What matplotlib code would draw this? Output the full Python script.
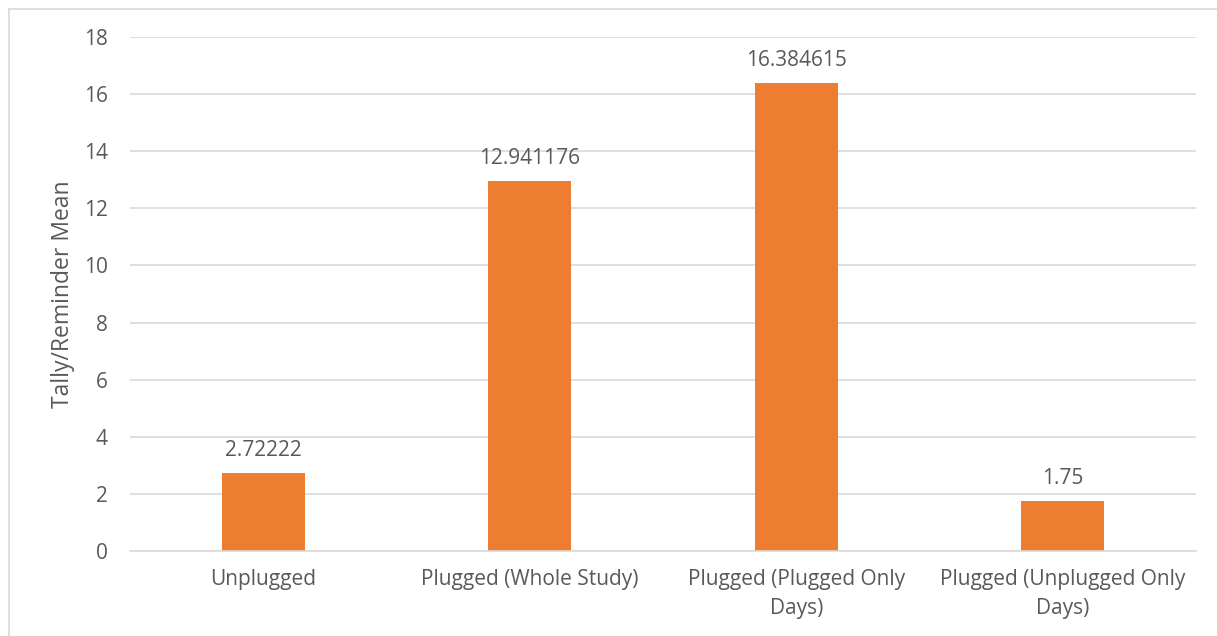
import matplotlib
matplotlib.use("Agg")
import matplotlib.pyplot as plt
from matplotlib.lines import Line2D

categories = ["Unplugged", "Plugged (Whole Study)", "Plugged (Plugged Only\nDays)",
              "Plugged (Unplugged Only\nDays)"]
values = [2.72222, 12.941176, 16.384615, 1.75]
value_labels = ["2.72222", "12.941176", "16.384615", "1.75"]
y_ticks = [0, 2, 4, 6, 8, 10, 12, 14, 16, 18]

plt.rcParams["font.family"] = ["Open Sans", "DejaVu Sans"]
text_color = "#595959"
grid_color = "#D9D9D9"
bar_color = "#ED7D31"

fig = plt.figure(figsize=(12.17, 6.36), dpi=100)
ax = fig.add_axes([130 / 1217, 1 - 551 / 636, (1196 - 130) / 1217, (551 - 37) / 636])

x = list(range(len(categories)))
bars = ax.bar(x, values, width=0.31, color=bar_color, zorder=3)

for xi, v, lab in zip(x, values, value_labels):
    ax.annotate(lab, (xi, v), xytext=(0, 9), textcoords="offset points",
                ha="center", va="bottom", fontsize=15, color=text_color)

ax.set_xlim(-0.5, len(categories) - 0.5)
ax.set_ylim(0, 18)
ax.set_yticks(y_ticks)
ax.set_xticks(x)
ax.set_xticklabels(categories, fontsize=15, color=text_color, linespacing=1.5)
ax.tick_params(axis="y", labelsize=15, labelcolor=text_color, length=0, pad=16)
ax.tick_params(axis="x", length=0, pad=13)
ax.yaxis.grid(True, color=grid_color, linewidth=1.2, zorder=0)
for side in ["top", "right", "left"]:
    ax.spines[side].set_visible(False)
ax.spines["bottom"].set_color(grid_color)
ax.spines["bottom"].set_linewidth(1.2)
ax.spines["bottom"].set_zorder(4)
ax.set_ylabel("Tally/Reminder Mean", fontsize=16.5, color=text_color, labelpad=6)

# chart area frame (left and top edges)
fig.add_artist(Line2D([8.5 / 1217, 8.5 / 1217], [0, 1 - 8.5 / 636], color=grid_color,
                      linewidth=1.2, transform=fig.transFigure))
fig.add_artist(Line2D([8.5 / 1217, 1], [1 - 8.5 / 636, 1 - 8.5 / 636], color=grid_color,
                      linewidth=1.2, transform=fig.transFigure))

fig.savefig("out.png", dpi=100)
